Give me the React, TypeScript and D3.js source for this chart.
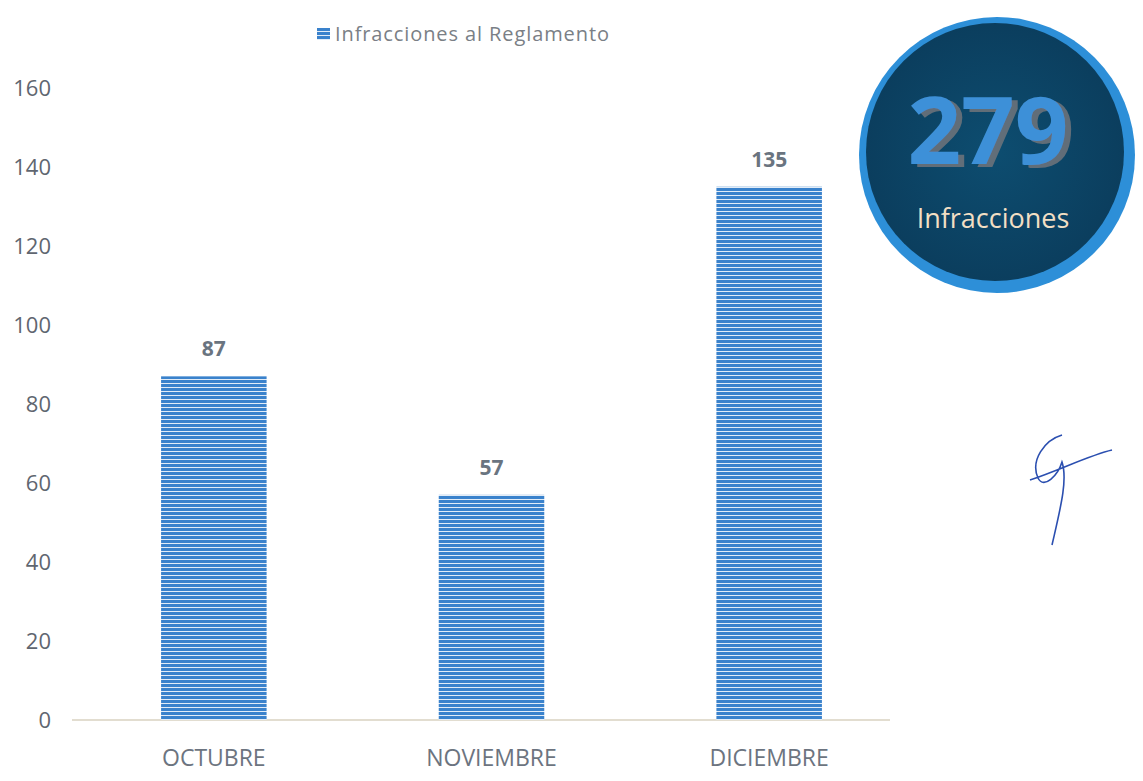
import React from "react";
import * as d3 from "d3";

const categories = ["OCTUBRE", "NOVIEMBRE", "DICIEMBRE"];
const values = [87, 57, 135];
const yTicks = [0, 20, 40, 60, 80, 100, 120, 140, 160];
const seriesName = "Infracciones al Reglamento";
const totalLabel = "Infracciones";

export default function App() {
  const W = 1143, H = 781;
  const x = d3.scaleBand<string>().domain(categories).range([75, 908]).paddingInner(0.62).paddingOuter(0.31);
  const y = d3.scaleLinear().domain([0, 160]).range([720, 88]);
  const total = d3.sum(values);
  const font = "'Open Sans', 'Noto Sans', sans-serif";
  return (
    <svg width={W} height={H} style={{ position: "absolute", left: 0, top: 0, background: "#fff" }}>
      <defs>
        <pattern id="stripes" width="4" height="4" patternUnits="userSpaceOnUse">
          <rect width="4" height="4" fill="#3a82cc" />
          <rect y="3" width="4" height="1" fill="#e2ecf7" />
        </pattern>
        <radialGradient id="inner" cx="50%" cy="50%" r="50%">
          <stop offset="0%" stopColor="#0d4d70" />
          <stop offset="100%" stopColor="#0b3e5e" />
        </radialGradient>
        <filter id="shadow" x="-20%" y="-20%" width="140%" height="140%">
          <feDropShadow dx="6" dy="3" stdDeviation="0.5" floodColor="#70747a" floodOpacity="0.85" />
        </filter>
      </defs>
      {/* legend */}
      <rect x={317} y={28} width={13} height={12} fill="url(#stripes)" />
      <text x={335} y={41} fontFamily={font} fontSize={20} fill="#7a7f86" letterSpacing={0.9}>{seriesName}</text>
      {/* y ticks */}
      {yTicks.map(t => (
        <text key={t} x={51} y={y(t)} dy="0.35em" textAnchor="end" fontFamily={font} fontSize={22} fill="#5f6670">{t}</text>
      ))}
      {/* baseline */}
      <line x1={72} x2={890} y1={y(0)} y2={y(0)} stroke="#d8d2c0" strokeWidth={1.5} />
      {/* bars */}
      {categories.map((c, i) => (
        <g key={c}>
          <rect x={x(c)!} y={y(values[i])} width={x.bandwidth()} height={y(0) - y(values[i])} fill="url(#stripes)" />
          <text x={x(c)! + x.bandwidth() / 2} y={y(values[i]) - 20} textAnchor="middle" fontFamily={font} fontSize={21} fontWeight={700} fill="#6a7480">{values[i]}</text>
          <text x={x(c)! + x.bandwidth() / 2} y={766} textAnchor="middle" fontFamily={font} fontSize={23} fill="#6c7480">{c}</text>
        </g>
      ))}
      {/* total badge */}
      <circle cx={997} cy={155} r={138} fill="#2d8fd8" />
      <circle cx={995} cy={152} r={129} fill="url(#inner)" />
      <text x={988} y={164} textAnchor="middle" fontFamily={font} fontSize={94} fontWeight={700} fill="#3d90d8" filter="url(#shadow)">{total}</text>
      <text x={993} y={228} textAnchor="middle" fontFamily={font} fontSize={27} fill="#f2dfc4">{totalLabel}</text>
      {/* signature mark */}
      <path d="M1062,435 C1045,440 1030,460 1038,478 C1044,490 1058,475 1062,462 C1068,480 1060,510 1052,545 M1030,480 C1060,470 1090,455 1112,450" fill="none" stroke="#2b4fb0" strokeWidth={1.6} />
    </svg>
  );
}
